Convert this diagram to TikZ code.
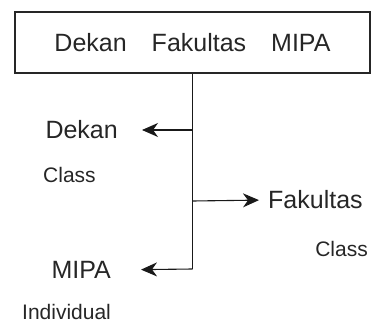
\documentclass[tikz,border=0pt]{standalone}
\usepackage{fontspec}
\setmainfont{Liberation Sans}
\usetikzlibrary{arrows.meta,positioning}

\begin{document}
\begin{tikzpicture}[
  x=1pt, y=-1pt,
  hdrbox/.style={draw=black!85, line width=1.2pt, minimum width=355pt, minimum height=61pt, inner sep=0pt, text=black!85, font=\fontsize{25}{29}\selectfont},
  lbl/.style={inner sep=0pt, text=black!85, font=\fontsize{25}{29}\selectfont},
  sublbl/.style={inner sep=0pt, text=black!85, font=\fontsize{21}{25}\selectfont},
  link/.style={-{Stealth[length=16pt, width=14pt, inset=5pt]}, draw=black!90, line width=1.1pt}
]
\useasboundingbox (0,0) rectangle (372,326);
\node[hdrbox] (dfm) at (192.5,42.5) {Dekan\quad Fakultas\quad MIPA};
\coordinate (jd) at (dfm.south |- 0,130);
\coordinate (jf) at (dfm.south |- 0,201);
\coordinate (jm) at (dfm.south |- 0,269);
\node[lbl, anchor=east] (dekan) at (118,130) {Dekan};
\node[lbl, anchor=west] (fak) at (268,200) {Fakultas};
\node[lbl, anchor=east] (mipa) at (111,270) {MIPA};
\node[sublbl, anchor=west] (clsd) at (43,174.5) {Class};
\node[sublbl, anchor=east] (clsf) at (368,248.5) {Class};
\node[sublbl, anchor=west] (indv) at (22,312) {Individual};
\draw[draw=black!90, line width=1.1pt] (dfm.south) -- (jm);
\draw[link, shorten >=24pt] (jd) -- (dekan.east);
\draw[link, shorten >=9pt] (jf) -- (fak.west);
\draw[link, shorten >=30pt] (jm) -- (mipa.east);
\end{tikzpicture}
\end{document}
